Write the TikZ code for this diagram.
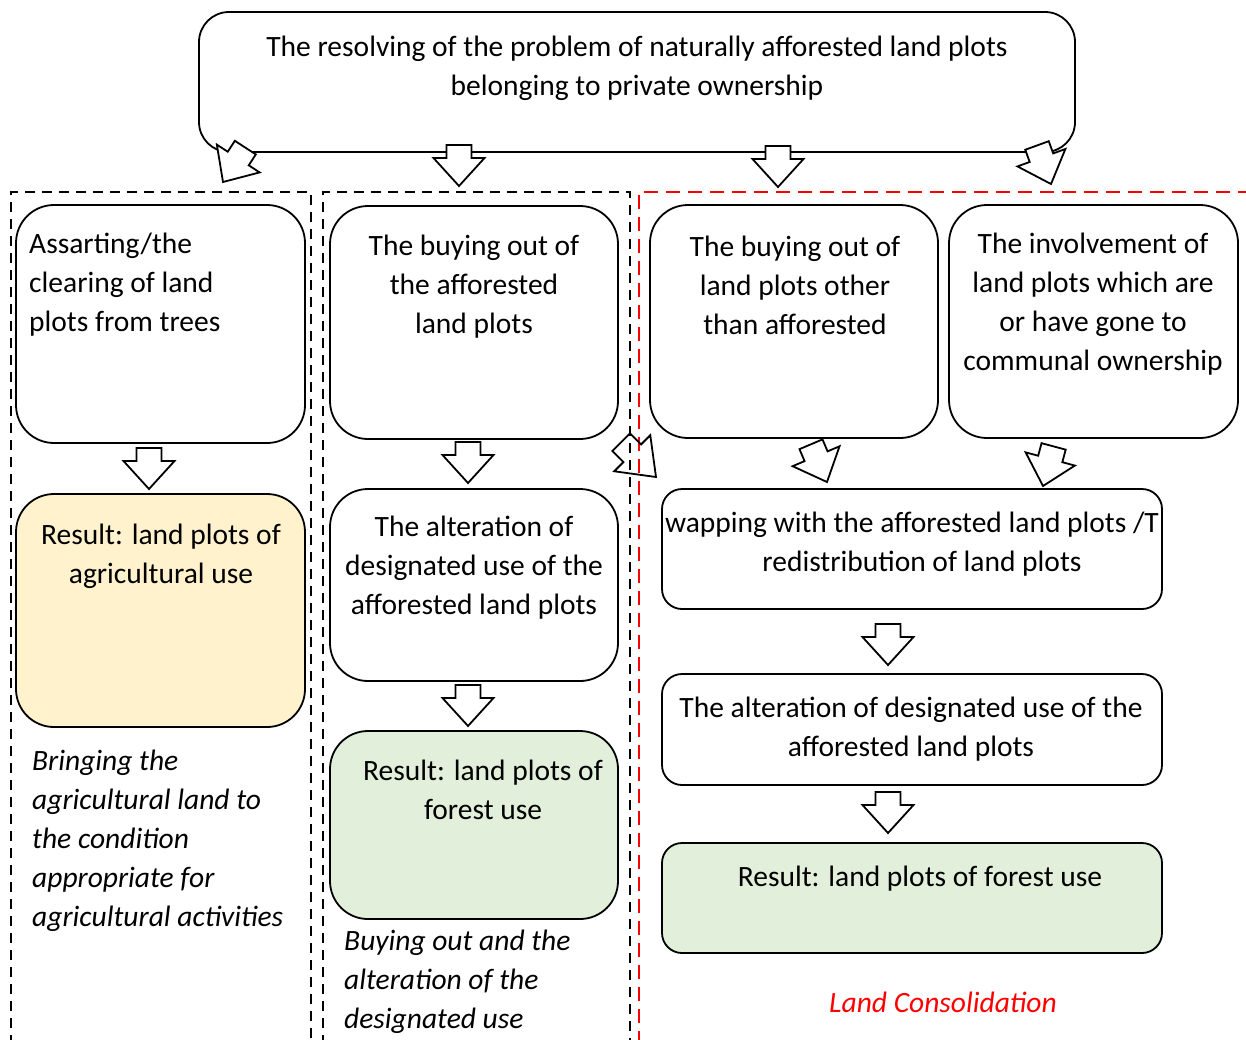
\documentclass[tikz,border=0pt]{standalone}
\usepackage{fontspec}
\setmainfont{Carlito}
\newcommand\blkarrow[3][]{\draw[blk,shift={#2},rotate=#3,#1] (-12.5,-41) -- (12.5,-41) -- (12.5,-28) -- (25.5,-28) -- (0,0) -- (-25.5,-28) -- (-12.5,-28) -- cycle;}
\begin{document}
\begin{tikzpicture}[x=1pt,y=-1pt,
  box/.style={draw, line width=1.8pt, rounded corners=38pt, inner sep=0pt},
  sbox/.style={draw, line width=1.8pt, rounded corners=20pt, inner sep=0pt},
  txt/.style={inner sep=0pt, font=\fontsize{29.5}{39}\selectfont, align=center},
  itxt/.style={inner sep=0pt, font=\fontsize{29.5}{39}\selectfont\itshape, align=left, anchor=west},
  blk/.style={draw, line width=1.8pt, fill=white, line join=miter},
  bframe/.style={dash pattern=on 10pt off 7pt, line width=2.6pt},
  rframe/.style={red, dash pattern=on 14pt off 8pt, line width=2.6pt}]
\useasboundingbox (0,0) rectangle (1246,1039);
% frames
\draw[bframe] (11,1045) -- (11,192) -- (311,192) -- (311,1045);
\draw[bframe] (323,1045) -- (323,192) -- (630,192) -- (630,1045);
\draw[rframe] (639,1045) -- (639,192) -- (1250,192);
% boxes
\node[box, rounded corners=30pt, minimum width=876pt, minimum height=140pt] (top) at (637,82) {};
\node[box, minimum width=289pt, minimum height=238pt] (c1a) at (160.5,324) {};
\node[box, fill={rgb,255:red,255;green,242;blue,204}, minimum width=289pt, minimum height=233pt] (c1r) at (160.5,610.5) {};
\node[box, minimum width=288pt, minimum height=233pt] (c2a) at (474,322.5) {};
\node[box, minimum width=288pt, minimum height=192pt] (c2b) at (474,585) {};
\node[box, fill={rgb,255:red,226;green,239;blue,218}, minimum width=288pt, minimum height=188pt] (c2r) at (474,825) {};
\node[box, minimum width=288pt, minimum height=233pt] (c3a) at (794,321.5) {};
\node[box, minimum width=289pt, minimum height=233pt] (c4a) at (1093.5,321.5) {};
\node[sbox, minimum width=500pt, minimum height=120pt] (sw) at (912,549) {};
\node[sbox, minimum width=500pt, minimum height=111pt] (alt) at (912,729.5) {};
\node[sbox, fill={rgb,255:red,226;green,239;blue,218}, minimum width=500pt, minimum height=110pt] (res) at (912,898) {};
% texts
\node[txt] (t0) at (637,68) {The resolving of the problem of naturally afforested land plots\\belonging to private ownership};
\node[txt, align=left, anchor=west] (t1) at (29,285) {Assarting/the\\clearing of land\\plots from trees};
\node[txt] (t2) at (161,556) {Result: land plots of\\agricultural use};
\node[itxt] (t3) at (32,840.5) {Bringing the\\agricultural land to\\the condition\\appropriate for\\agricultural activities};
\node[txt] (t4) at (474,287) {The buying out of\\the afforested\\land plots};
\node[txt] (t5) at (474,568) {The alteration of\\designated use of the\\afforested land plots};
\node[txt] (t6) at (483,789.5) {Result: land plots of\\forest use};
\node[itxt] (t7) at (344,982) {Buying out and the\\alteration of the\\designated use};
\node[txt] (t8) at (795,285) {The buying out of\\land plots other\\than afforested};
\node[txt] (t9) at (1093,304.5) {The involvement of\\land plots which are\\or have gone to\\communal ownership};
\node[txt] (t10a) at (912,525) {wapping with the afforested land plots /T};
\node[txt] (t10b) at (922,564) {redistribution of land plots};
\node[txt] (t11) at (911,729) {The alteration of designated use of the\\afforested land plots};
\node[txt] (t12) at (920,879) {Result: land plots of forest use};
\node[txt, text=red, font=\fontsize{29.5}{39}\selectfont\itshape] (t13) at (943,1002) {Land Consolidation};
% block arrows
\blkarrow{(223,182)}{-33}
\blkarrow{(459,186)}{0}
\blkarrow{(778,187)}{0}
\blkarrow{(1051,184)}{20}
\blkarrow{(149,489)}{0}
\blkarrow{(468,483)}{0}
\blkarrow{(468,726)}{0}
\blkarrow[fill=none, yscale=1.2]{(656,477)}{45}
\blkarrow{(827,482)}{23}
\blkarrow{(1043,486)}{-15}
\blkarrow{(888,665)}{0}
\blkarrow{(888,833)}{0}
\end{tikzpicture}
\end{document}
